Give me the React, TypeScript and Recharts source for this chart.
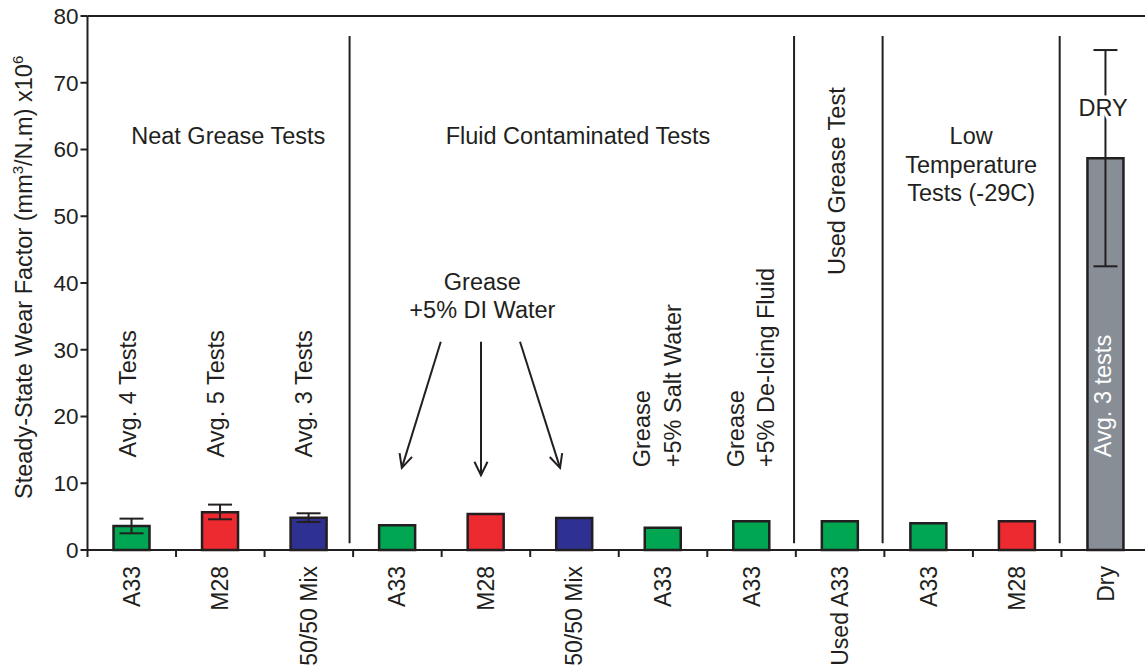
import React from 'react';
import { BarChart, Bar, Cell, XAxis, YAxis, ErrorBar, ReferenceLine, ReferenceDot } from 'recharts';

// wear factor data
const categories = ['A33', 'M28', '50/50 Mix', 'A33', 'M28', '50/50 Mix', 'A33', 'A33', 'Used A33', 'A33', 'M28', 'Dry'];
const wearFactor = [3.6, 5.65, 4.85, 3.7, 5.4, 4.8, 3.35, 4.3, 4.3, 4.0, 4.3, 58.7];
const errorLow = [1.1, 1.05, 0.65, null, null, null, null, null, null, null, null, 16.2];
const errorHigh = [1.1, 1.15, 0.65, null, null, null, null, null, null, null, null, 16.2];
const barColors = ['#00a651', '#ed2a30', '#2e3192', '#00a651', '#ed2a30', '#2e3192', '#00a651', '#00a651', '#00a651', '#00a651', '#ed2a30', '#878e95'];
const yTicks = [0, 10, 20, 30, 40, 50, 60, 70, 80];

// group separators (position along the category axis, 0..12)
const separators = [2.96, 7.98, 8.98, 10.98];

// horizontal annotations: [pos, value, text]
const flatNotes: [number, number, string][] = [
  [1.59, 62, 'Neat Grease Tests'],
  [5.54, 62, 'Fluid Contaminated Tests'],
  [4.46, 40.1, 'Grease'],
  [4.46, 35.9, '+5% DI Water'],
  [9.98, 62, 'Low'],
  [9.98, 57.7, 'Temperature'],
  [9.98, 53.5, 'Tests (-29C)'],
];

// rotated annotations: [pos, value, text, anchor]
const sideNotes: [number, number, string, string][] = [
  [0.457, 23.4, 'Avg. 4 Tests', 'middle'],
  [1.451, 23.4, 'Avg. 5 Tests', 'middle'],
  [2.445, 23.4, 'Avg. 3 Tests', 'middle'],
  [6.26, 12.4, 'Grease', 'start'],
  [6.61, 12.4, '+5% Salt Water', 'start'],
  [7.32, 12.4, 'Grease', 'start'],
  [7.66, 12.4, '+5% De-Icing Fluid', 'start'],
  [8.47, 41.2, 'Used Grease Test', 'start'],
];

// arrows from the DI water note down to its three bars: [x1, y1, x2, y2]
const arrows: [number, number, number, number][] = [
  [3.99, 31.2, 3.55, 12.3],
  [4.444, 31.2, 4.444, 11.2],
  [4.885, 31.2, 5.337, 12.3],
];

const data = categories.map((name, i) => ({
  name,
  pos: i + 0.5,
  value: wearFactor[i],
  err: errorLow[i] == null ? undefined : [errorLow[i], errorHigh[i]],
}));

const INK = '#231f20';
const FONT = '"Liberation Sans", Arial, Helvetica, sans-serif';
const NOTE_SIZE = 23.5;

const CategoryTick = (props: any) => {
  const { x, y, payload, index } = props;
  const half = payload && payload.offset ? payload.offset : 44.3;
  return (
    <g>
      <line x1={x - half} y1={y - 8} x2={x - half} y2={y - 1} stroke={INK} strokeWidth={2} />
      {index === categories.length - 1 && (
        <line x1={x + half} y1={y - 8} x2={x + half} y2={y - 1} stroke={INK} strokeWidth={2} />
      )}
      <text
        x={x}
        y={y + 8}
        transform={`rotate(-90, ${x}, ${y + 8})`}
        textAnchor="end"
        dominantBaseline="central"
        fontSize={23}
        fontFamily={FONT}
        fill={INK}
      >
        {payload.value}
      </text>
    </g>
  );
};

const YLabel = (props: any) => {
  const vb = props.viewBox || { x: 0, y: 16, width: 87, height: 534 };
  const cx = 32;
  const cy = vb.y + vb.height / 2 + 216;
  return (
    <text
      x={cx}
      y={cy}
      transform={`rotate(-90, ${cx}, ${cy})`}
      textAnchor="start"
      fontSize={23.5}
      fontFamily={FONT}
      fill={INK}
    >
      Steady-State Wear Factor (mm
      <tspan dy={-9} fontSize={15}>3</tspan>
      <tspan dy={9}>/N.m) x10</tspan>
      <tspan dy={-9} fontSize={15}>6</tspan>
    </text>
  );
};

const arrowShape = (p: any) => {
  const { x1, y1, x2, y2 } = p;
  const ang = Math.atan2(y2 - y1, x2 - x1);
  const len = 15;
  const spread = 0.45;
  const ax = x2 - len * Math.cos(ang - spread);
  const ay = y2 - len * Math.sin(ang - spread);
  const bx = x2 - len * Math.cos(ang + spread);
  const by = y2 - len * Math.sin(ang + spread);
  return (
    <g>
      <line x1={x1} y1={y1} x2={x2} y2={y2} stroke={INK} strokeWidth={2} />
      <path d={`M${ax},${ay} L${x2},${y2} L${bx},${by}`} fill="none" stroke={INK} strokeWidth={2} />
    </g>
  );
};

const flatText = (text: string) => (p: any) => (
  <text x={p.cx} y={p.cy} textAnchor="middle" dominantBaseline="central" fontSize={NOTE_SIZE} fontFamily={FONT} fill={INK}>
    {text}
  </text>
);

const sideText = (text: string, anchor: string) => (p: any) => (
  <text
    x={p.cx}
    y={p.cy}
    transform={`rotate(-90, ${p.cx}, ${p.cy})`}
    textAnchor={anchor}
    dominantBaseline="central"
    fontSize={NOTE_SIZE}
    fontFamily={FONT}
    fill={INK}
  >
    {text}
  </text>
);

const dryLabel = (p: any) => (
  <text
    x={p.cx}
    y={p.cy}
    textAnchor="middle"
    dominantBaseline="central"
    fontSize={NOTE_SIZE}
    fontFamily={FONT}
    fill={INK}
    stroke="#ffffff"
    strokeWidth={7}
    paintOrder="stroke"
  >
    DRY
  </text>
);

const dryInside = (p: any) => (
  <text
    x={p.cx}
    y={p.cy}
    transform={`rotate(-90, ${p.cx}, ${p.cy})`}
    textAnchor="start"
    dominantBaseline="central"
    fontSize={NOTE_SIZE}
    fontFamily={FONT}
    fill="#ffffff"
  >
    Avg. 3 tests
  </text>
);

export default function App() {
  return (
    <div style={{ position: 'absolute', left: 0, top: 0, width: 1145, height: 671, overflow: 'hidden', background: '#fff' }}>
      <BarChart width={1150} height={671} data={data} margin={{ top: 16, right: 0, bottom: 0, left: 0 }} barSize={36}>
        <XAxis
          dataKey="name"
          interval={0}
          tickLine={false}
          axisLine={{ stroke: INK, strokeWidth: 2 }}
          tick={<CategoryTick />}
          height={121}
        />
        <XAxis xAxisId="pos" dataKey="pos" type="number" domain={[0, 12]} allowDataOverflow hide />
        <YAxis
          width={87.5}
          domain={[0, 80]}
          ticks={yTicks}
          interval={0}
          tickSize={7}
          axisLine={{ stroke: INK, strokeWidth: 2 }}
          tickLine={{ stroke: INK, strokeWidth: 2 }}
          tick={{ fontSize: 22.5, fill: INK, fontFamily: FONT }}
          label={<YLabel />}
        />
        <ReferenceLine y={80} stroke={INK} strokeWidth={2} />
        {separators.map((s, i) => (
          <ReferenceLine
            key={`sep-${i}`}
            xAxisId="pos"
            segment={[{ x: s, y: 1 }, { x: s, y: 77 }]}
            stroke={INK}
            strokeWidth={2}
          />
        ))}
        <Bar dataKey="value" isAnimationActive={false} stroke={INK} strokeWidth={2.5}>
          {data.map((d, i) => (
            <Cell key={`cell-${i}`} fill={barColors[i]} />
          ))}
          <ErrorBar dataKey="err" width={12} stroke={INK} strokeWidth={2} direction="y" />
        </Bar>
        {arrows.map((a, i) => (
          <ReferenceLine
            key={`arrow-${i}`}
            xAxisId="pos"
            segment={[{ x: a[0], y: a[1] }, { x: a[2], y: a[3] }]}
            shape={arrowShape}
          />
        ))}
        {flatNotes.map((n, i) => (
          <ReferenceDot key={`flat-${i}`} xAxisId="pos" x={n[0]} y={n[1]} r={0} shape={flatText(n[2])} />
        ))}
        {sideNotes.map((n, i) => (
          <ReferenceDot key={`side-${i}`} xAxisId="pos" x={n[0]} y={n[1]} r={0} shape={sideText(n[2], n[3])} />
        ))}
        <ReferenceDot xAxisId="pos" x={11.47} y={66.2} r={0} shape={dryLabel} />
        <ReferenceDot xAxisId="pos" x={11.47} y={13.9} r={0} shape={dryInside} />
      </BarChart>
    </div>
  );
}
